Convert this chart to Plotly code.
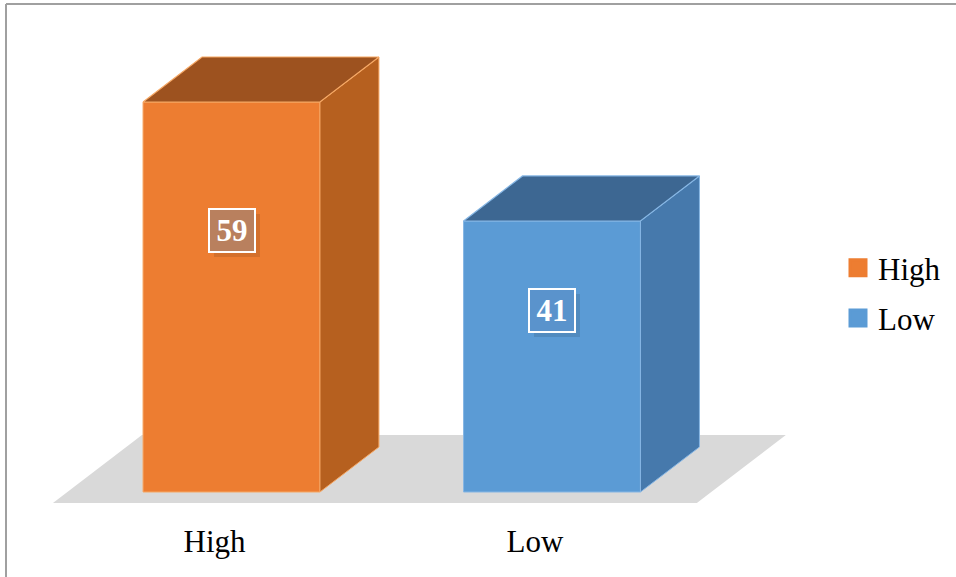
import plotly.graph_objects as go

# Chart data
categories = ["High", "Low"]
values = [59, 41]
front_colors = ["#ED7D31", "#5B9BD5"]
side_colors = ["#B6601F", "#4679AC"]
top_colors = ["#9D521F", "#3D6792"]
edge_colors = ["#F6A865", "#86B6E4"]
label_fills = ["#B9805E", "#5A93CC"]

# 3D geometry (in axis units)
bar_width = 0.552
depth_x = 0.184
depth_y = 6.81
label_frac = 0.67

FONT = "Liberation Serif"

fig = go.Figure()

xpos = list(range(len(categories)))

# Front faces
fig.add_trace(go.Bar(
    x=xpos, y=values, width=bar_width,
    marker=dict(color=front_colors, line=dict(color=edge_colors, width=1)),
    showlegend=False, hoverinfo="skip",
))

# Side and top faces derived from each value
for i, v in enumerate(values):
    c = xpos[i]
    left = c - bar_width / 2
    right = c + bar_width / 2
    fig.add_trace(go.Scatter(
        x=[right, right + depth_x, right + depth_x, right, right],
        y=[0, depth_y, v + depth_y, v, 0],
        fill="toself", fillcolor=side_colors[i], mode="lines",
        line=dict(color=edge_colors[i], width=1),
        showlegend=False, hoverinfo="skip",
    ))
    fig.add_trace(go.Scatter(
        x=[left, left + depth_x, right + depth_x, right, left],
        y=[v, v + depth_y, v + depth_y, v, v],
        fill="toself", fillcolor=top_colors[i], mode="lines",
        line=dict(color=edge_colors[i], width=1.2),
        showlegend=False, hoverinfo="skip",
    ))

# Legend entries
for i, name in enumerate(categories):
    fig.add_trace(go.Scatter(
        x=[None], y=[None], mode="markers", name=name,
        legendgroup=name,
        marker=dict(symbol="square", size=16, color=front_colors[i],
                    line=dict(color=front_colors[i], width=3)),
    ))

# Floor under the bars
fl_front_y = -1.66
fl_back_y = depth_y + 1.82
fl_x0 = -0.557
fl_x1 = 1.452
fl_dx = 0.2776
floor_path = (
    f"M {fl_x0},{fl_front_y} L {fl_x1},{fl_front_y} "
    f"L {fl_x1 + fl_dx},{fl_back_y} L {fl_x0 + fl_dx},{fl_back_y} Z"
)
fig.add_shape(type="path", path=floor_path, xref="x", yref="y",
              fillcolor="#D9D9D9", line=dict(width=0), layer="below")

# Value labels
for i, v in enumerate(values):
    fig.add_annotation(
        x=xpos[i], y=v * label_frac, text="", showarrow=False,
        width=44, height=41, bgcolor="rgba(0,0,0,0.10)",
        borderpad=0, borderwidth=2, bordercolor="rgba(0,0,0,0)",
        xshift=5, yshift=-5,
    )
    fig.add_annotation(
        x=xpos[i], y=v * label_frac, text=f"<b>{v}</b>", showarrow=False,
        font=dict(family=FONT, size=31, color="white"),
        width=44, height=41, bgcolor=label_fills[i],
        bordercolor="white", borderwidth=2, borderpad=0,
    )

# Chart frame
fig.add_shape(type="line", xref="paper", yref="paper",
              x0=6 / 956, x1=1.01, y0=1 - 4 / 525, y1=1 - 4 / 525,
              line=dict(color="#A0A0A0", width=2))
fig.add_shape(type="line", xref="paper", yref="paper",
              x0=6 / 956, x1=6 / 956, y0=1 - 4 / 525, y1=-0.12,
              line=dict(color="#A0A0A0", width=2))

fig.update_layout(
    width=956, height=577,
    margin=dict(l=0, r=0, t=0, b=52),
    paper_bgcolor="white", plot_bgcolor="white",
    barmode="overlay",
    showlegend=True,
    legend=dict(
        x=838 / 956, xanchor="left", y=(525 - 293) / 525, yanchor="middle",
        font=dict(family=FONT, size=31, color="black"),
        tracegroupgap=7, itemsizing="trace", bgcolor="rgba(0,0,0,0)",
    ),
    xaxis=dict(
        range=[-0.7223, 2.2605], tickmode="array", tickvals=xpos,
        ticktext=categories, showgrid=False, zeroline=False, showline=False,
        ticks="", tickfont=dict(family=FONT, size=31, color="black"),
        ticklabelshift=-17, ticklabelstandoff=-5,
        fixedrange=True,
    ),
    yaxis=dict(
        range=[-4.992, 74.43], showgrid=False, zeroline=False,
        showline=False, showticklabels=False, ticks="", fixedrange=True,
    ),
)

fig.write_html("out.html")
